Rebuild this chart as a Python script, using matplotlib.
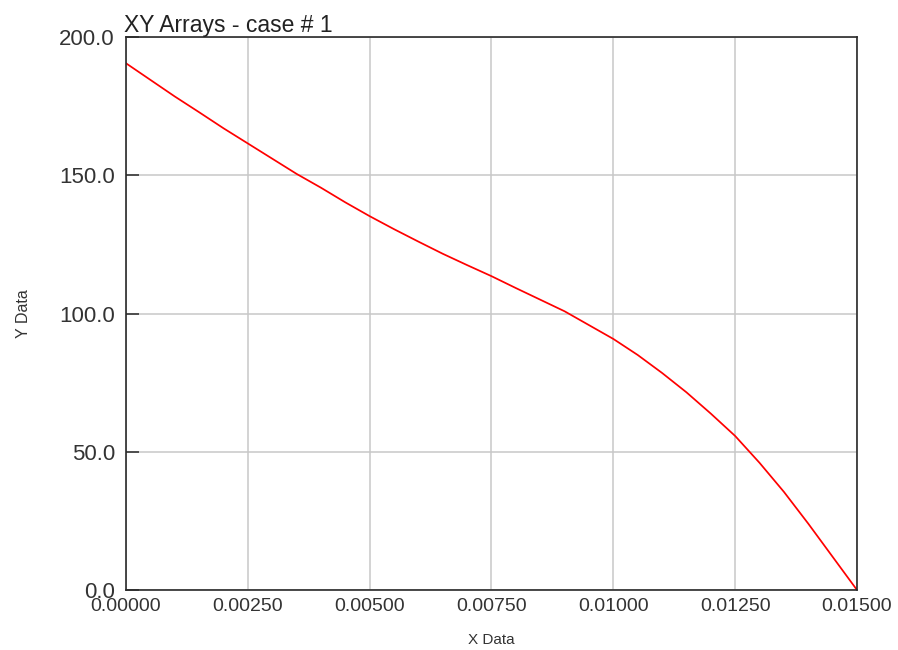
import matplotlib
matplotlib.use("Agg")
import matplotlib.pyplot as plt
from matplotlib.ticker import FormatStrFormatter

plt.rcParams["font.family"] = ["Liberation Sans", "DejaVu Sans"]

x_data = [0.0, 0.0005, 0.001, 0.0015, 0.002, 0.0025, 0.003, 0.0035, 0.004, 0.0045,
          0.005, 0.0055, 0.006, 0.0065, 0.007, 0.0075, 0.008, 0.0085, 0.009, 0.0095,
          0.010, 0.0105, 0.011, 0.0115, 0.012, 0.0125, 0.013, 0.0135, 0.014, 0.0145, 0.015]
y_data = [190.5, 184.5, 178.5, 172.8, 167.0, 161.5, 156.0, 150.5, 145.5, 140.2,
          135.2, 130.5, 126.0, 121.6, 117.5, 113.5, 109.2, 105.0, 100.8, 95.8,
          90.8, 85.0, 78.5, 71.5, 63.8, 55.7, 46.0, 35.5, 24.0, 12.0, 0.0]
x_ticks = [0.0, 0.0025, 0.005, 0.0075, 0.010, 0.0125, 0.015]
y_ticks = [0.0, 50.0, 100.0, 150.0, 200.0]

txt = "#333333"
fig = plt.figure(figsize=(8.98, 6.5), dpi=100)
ax = fig.add_axes([126/898, 60/650, (857-126)/898, (590-37)/650])

ax.plot(x_data, y_data, color="#ff0000", lw=1.25)
ax.set_xlim(0, 0.015)
ax.set_ylim(0, 200)
ax.set_xticks(x_ticks)
ax.set_yticks(y_ticks)
ax.xaxis.set_major_formatter(FormatStrFormatter("%.5f"))
ax.yaxis.set_major_formatter(FormatStrFormatter("%.1f"))
ax.grid(True, color="#c8c8c8", lw=1.1)
ax.set_axisbelow(True)
for s in ax.spines.values():
    s.set_color("#2a2a2a")
    s.set_linewidth(1.2)
ax.tick_params(axis="x", length=0, pad=6, labelsize=14, colors=txt)
ax.tick_params(axis="y", direction="in", length=9, width=1.1, pad=8,
               labelsize=16, colors="#2a2a2a", labelcolor=txt)
ax.set_xlabel("X Data", fontsize=11, color=txt, labelpad=13)
ax.set_ylabel("Y Data", fontsize=11.5, color=txt, labelpad=20)
ax.set_title("XY Arrays - case # 1", loc="left", fontsize=16.5, color="#222222", pad=2, x=-0.003)

fig.savefig("out.png", dpi=100)
